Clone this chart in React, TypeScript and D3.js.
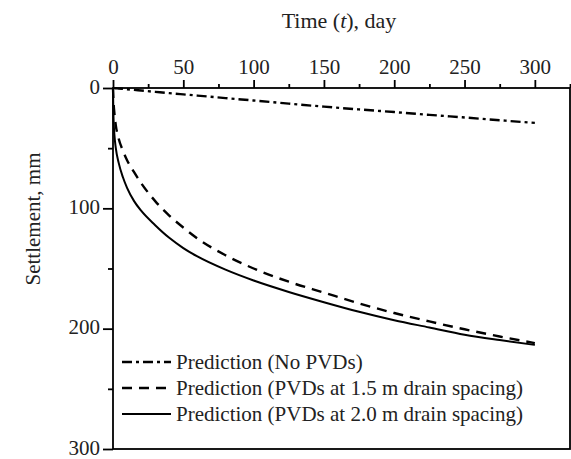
import React, { useEffect, useRef } from 'react';
import * as d3 from 'd3';

// time (days) at which the curves were read
const times = [0, 0.25, 0.5, 1, 2, 4, 7, 10, 15, 20, 30, 40, 50, 60, 80, 100, 125, 150, 175, 200, 225, 250, 275, 300];
// settlement in mm
const noPvds = [0, 0, 0.1, 0.1, 0.2, 0.4, 0.7, 1, 1.6, 2.1, 3.2, 4.3, 5.3, 6.3, 8.4, 10.4, 13, 15.5, 17.8, 20, 22.3, 24.5, 26.8, 29];
const pvd15 = [0, 8, 14, 21, 31, 42, 52, 60, 70, 79, 94, 106, 116, 125, 139, 150, 161, 170, 179, 187, 194, 200.5, 206.5, 212];
const pvd20 = [0, 20, 29, 39, 50, 62, 74, 83, 94, 102, 114, 124.5, 133, 140, 151, 160, 169.5, 178, 186, 193, 199, 205, 209.5, 213.5];

const xMajor = [0, 50, 100, 150, 200, 250, 300];
const xMinor = [25, 75, 125, 175, 225, 275, 325];
const yMajor = [0, 100, 200, 300];
const yMinor = [50, 150, 250];

const legendLabels = [
    'Prediction (No PVDs)',
    'Prediction (PVDs at 1.5 m drain spacing)',
    'Prediction (PVDs at 2.0 m drain spacing)',
];

const App = () => {
    const svgRef = useRef<SVGSVGElement>(null);

    useEffect(() => {
        const svg = d3.select(svgRef.current);
        svg.selectAll('*').remove();

        const font = '"Liberation Serif", "Times New Roman", serif';
        const x = d3.scaleLinear().domain([0, 325]).range([113, 570]);
        const y = d3.scaleLinear().domain([0, 300]).range([88, 449]);

        // series styles
        const series = [
            { values: noPvds, dash: '10,4,3,4', width: 2.4 },
            { values: pvd15, dash: '10,7', width: 2.4 },
            { values: pvd20, dash: null, width: 2 },
        ];

        const line = d3.line<number>()
            .x((_, i) => x(times[i]))
            .y((d) => y(d))
            .curve(d3.curveMonotoneX);

        series.forEach((s) => {
            svg.append('path')
                .attr('d', line(s.values))
                .attr('fill', 'none')
                .attr('stroke', '#000')
                .attr('stroke-width', s.width)
                .attr('stroke-dasharray', s.dash);
        });

        // plot frame
        svg.append('rect')
            .attr('x', x(0)).attr('y', y(0))
            .attr('width', x(325) - x(0)).attr('height', y(300) - y(0))
            .attr('fill', 'none').attr('stroke', '#000').attr('stroke-width', 1.8);

        // top axis
        const top = svg.append('g').attr('transform', `translate(0,${y(0)})`)
            .call(d3.axisTop(x).tickValues(xMajor).tickSize(8).tickPadding(6).tickFormat(d3.format('d')));
        svg.append('g').attr('transform', `translate(0,${y(0)})`)
            .call(d3.axisTop(x).tickValues(xMinor).tickSize(4).tickFormat(() => ''));

        // left axis
        const left = svg.append('g').attr('transform', `translate(${x(0)},0)`)
            .call(d3.axisLeft(y).tickValues(yMajor).tickSize(10).tickPadding(3).tickFormat(d3.format('d')));
        svg.append('g').attr('transform', `translate(${x(0)},0)`)
            .call(d3.axisLeft(y).tickValues(yMinor).tickSize(5).tickFormat(() => ''));

        svg.selectAll('.domain').remove();
        svg.selectAll('.tick line').attr('stroke', '#000').attr('stroke-width', 1.8);
        [top, left].forEach((g) => g.selectAll('text')
            .attr('font-family', font).attr('font-size', 21).attr('fill', '#222'));
        // keep the bottom label inside the picture
        left.selectAll('text').attr('dy', '0.25em');

        // axis titles
        svg.append('text')
            .attr('x', 339).attr('y', 28)
            .attr('text-anchor', 'middle')
            .attr('font-family', font).attr('font-size', 22).attr('fill', '#222')
            .html('Time (<tspan font-style="italic">t</tspan>), day');

        svg.append('text')
            .attr('transform', 'translate(40,219) rotate(-90)')
            .attr('text-anchor', 'middle')
            .attr('font-family', font).attr('font-size', 21).attr('fill', '#222')
            .text('Settlement, mm');

        // legend
        const legend = svg.append('g');
        legendLabels.forEach((label, i) => {
            const ly = 362 + i * 26;
            legend.append('line')
                .attr('x1', 122).attr('x2', 171)
                .attr('y1', ly).attr('y2', ly)
                .attr('stroke', '#000')
                .attr('stroke-width', series[i].width)
                .attr('stroke-dasharray', series[i].dash);
            legend.append('text')
                .attr('x', 176).attr('y', ly + 7)
                .attr('font-family', font).attr('font-size', 21).attr('fill', '#222')
                .text(label);
        });
    }, []);

    return (
        <svg ref={svgRef} width={571} height={459}
            style={{ position: 'absolute', left: 0, top: 0, background: '#fff' }} />
    );
};

export default App;
